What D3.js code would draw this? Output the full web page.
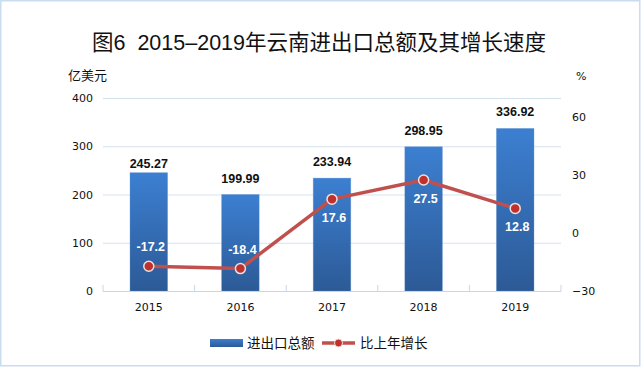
<!DOCTYPE html>
<html><head><meta charset="utf-8">
<script src="https://cdn.jsdelivr.net/npm/d3@7/dist/d3.min.js"></script>
<style>body{margin:0;background:#fff}svg{display:block}</style>
</head><body><svg id="c" width="643" height="367"></svg>
<script>
const years = ["2015","2016","2017","2018","2019"];
const totals = [245.27, 199.99, 233.94, 298.95, 336.92];
const growth = [-17.2, -18.4, 17.6, 27.5, 12.8];
const leftTicks = [0, 100, 200, 300, 400];
const rightTicks = [-30, 0, 30, 60];
const title = "图6  2015–2019年云南进出口总额及其增长速度";
const seriesNames = ["进出口总额", "比上年增长"];

const svg = d3.select("#c");
const cjk = "'Noto Sans CJK SC', sans-serif";
const titleFont = "'Liberation Sans', 'Noto Sans CJK SC', sans-serif";
const num = "'DejaVu Sans', sans-serif";
const lab = "'Liberation Sans', Arial, sans-serif";

svg.append("rect").attr("x",0.75).attr("y",0.75).attr("width",639).attr("height",365)
  .attr("fill","#fff").attr("stroke","#c9dcf0").attr("stroke-width",1.5);

const L = 103, R = 561, T = 98, B = 291;
const x = d3.scaleBand().domain(years).range([L, R]).paddingInner(0.59).paddingOuter(0.295);
const xc = d3.scalePoint().domain(years).range([L, R]).padding(0.5);
const yL = d3.scaleLinear().domain([0, 400]).range([B, T]);
const yR = d3.scaleLinear().domain([-30, 70]).range([B, T]);

const defs = svg.append("defs");
const g = defs.append("linearGradient").attr("id","bg").attr("x1",0).attr("y1",0).attr("x2",0).attr("y2",1);
g.append("stop").attr("offset","0%").attr("stop-color","#3c7fd1");
g.append("stop").attr("offset","100%").attr("stop-color","#2c5a96");

// title
svg.append("text").attr("x",319).attr("y",50).attr("text-anchor","middle")
  .style("white-space","pre")
  .attr("font-family",titleFont).attr("font-size",21.5).attr("fill","#111").text(title);

// gridlines
svg.append("g").selectAll("line").data(leftTicks.filter(d=>d>0)).join("line")
  .attr("x1",L).attr("x2",R).attr("y1",d=>yL(d)+0.5).attr("y2",d=>yL(d)+0.5)
  .attr("stroke","#d5e2f0").attr("stroke-width",1);

// left axis
const axL = svg.append("g").attr("transform",`translate(${L},0)`)
  .call(d3.axisLeft(yL).tickValues(leftTicks).tickSize(0).tickPadding(10));
axL.select(".domain").remove();
axL.selectAll("text").attr("font-family",num).attr("font-size",11).attr("fill","#111");

// right axis
const axR = svg.append("g").attr("transform",`translate(${R},0)`)
  .call(d3.axisRight(yR).tickValues(rightTicks).tickSize(0).tickPadding(11));
axR.select(".domain").remove();
axR.selectAll("text").attr("font-family",num).attr("font-size",11).attr("fill","#111");

// unit labels
svg.append("text").attr("x",68).attr("y",80).attr("font-family",cjk).attr("font-size",13).attr("fill","#111").text("亿美元");
svg.append("text").attr("x",576).attr("y",80).attr("font-family",num).attr("font-size",11).attr("fill","#111").text("%");

// bars
svg.append("g").selectAll("rect").data(totals).join("rect")
  .attr("x",(d,i)=>x(years[i])).attr("width",x.bandwidth())
  .attr("y",d=>yL(d)).attr("height",d=>yL(0)-yL(d))
  .attr("fill","url(#bg)").attr("stroke","#5b8fd0").attr("stroke-opacity",0.4).attr("stroke-width",0.8);

// x axis
const axX = svg.append("g").attr("transform",`translate(0,${B+0.5})`)
  .call(d3.axisBottom(x).tickSize(0).tickPadding(12));
axX.select(".domain").attr("stroke","#c5d7ec").attr("d",`M${L},0H${R}`);
axX.selectAll("text").attr("font-family",num).attr("font-size",11).attr("fill","#111");
svg.append("g").selectAll("line").data(d3.range(years.length+1)).join("line")
  .attr("x1",i=>L+i*(R-L)/years.length).attr("x2",i=>L+i*(R-L)/years.length)
  .attr("y1",B-6).attr("y2",B+0.5).attr("stroke","#c5d7ec");

// bar labels
svg.append("g").selectAll("text").data(totals).join("text")
  .attr("x",(d,i)=>xc(years[i])).attr("y",(d,i)=>yL(d)-(i===0?5:12))
  .attr("text-anchor","middle").attr("font-family",lab).attr("font-size",12.5).attr("font-weight","bold")
  .attr("fill","#111").text(d=>d.toFixed(2));

// line
const line = d3.line().x((d,i)=>xc(years[i])).y(d=>yR(d));
svg.append("path").datum(growth).attr("d",line).attr("fill","none")
  .attr("stroke","#c0504d").attr("stroke-width",3.5).attr("stroke-linejoin","round");
svg.append("g").selectAll("circle").data(growth).join("circle")
  .attr("cx",(d,i)=>xc(years[i])).attr("cy",d=>yR(d)).attr("r",5)
  .attr("fill","#c0302c").attr("stroke","#efe0dc").attr("stroke-width",1.5);

// line labels
svg.append("g").selectAll("text").data(growth).join("text")
  .attr("x",(d,i)=>xc(years[i])+2).attr("y",d=>d<0 ? yR(d)-15 : yR(d)+23)
  .attr("text-anchor","middle").attr("font-family",lab).attr("font-size",12.5).attr("font-weight","bold")
  .attr("fill","#fff").text(d=>d);

// legend
const lg = svg.append("g");
lg.append("rect").attr("x",210).attr("y",339).attr("width",33).attr("height",8).attr("fill","url(#bg)");
lg.append("text").attr("x",247).attr("y",348).attr("font-family",cjk).attr("font-size",13.5).attr("fill","#111").text(seriesNames[0]);
lg.append("line").attr("x1",322).attr("x2",355).attr("y1",343).attr("y2",343).attr("stroke","#c0504d").attr("stroke-width",3.5);
lg.append("circle").attr("cx",338.5).attr("cy",343).attr("r",4).attr("fill","#c0302c").attr("stroke","#efe0dc").attr("stroke-width",1);
lg.append("text").attr("x",360).attr("y",348).attr("font-family",cjk).attr("font-size",13.5).attr("fill","#111").text(seriesNames[1]);
</script></body></html>
